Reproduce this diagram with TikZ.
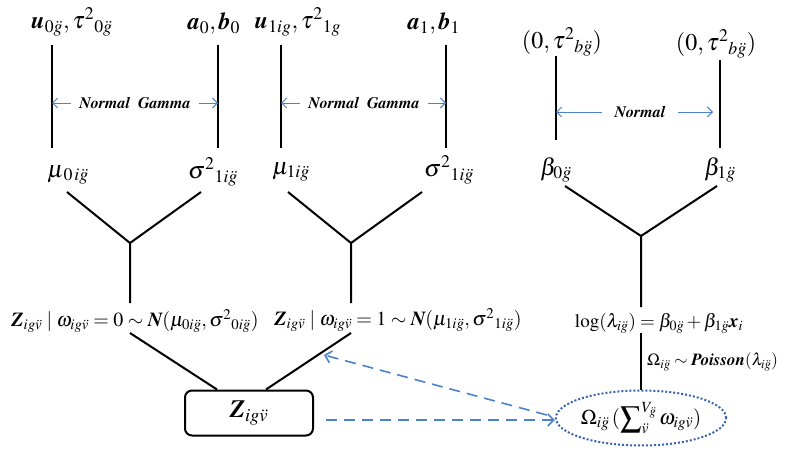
\documentclass[tikz,border=0pt]{standalone}
\usepackage[T1]{fontenc}
\usepackage{mathptmx}
\usetikzlibrary{arrows.meta,shapes.geometric}
\newcommand{\bi}[1]{\mbox{\bfseries\itshape #1}}
\newcommand{\gd}{\ddot{g}}
\newcommand{\vd}{\ddot{v}}
\definecolor{arrblue}{RGB}{75,130,200}
\definecolor{elblue}{RGB}{55,100,170}
\tikzset{
  lab/.style={inner sep=0pt, font=\fontsize{24}{28}\selectfont},
  eqn/.style={inner sep=0pt, font=\fontsize{20}{24}\selectfont},
  small/.style={inner sep=0pt, font=\fontsize{16}{19}\selectfont\bfseries\itshape},
  edge/.style={line width=2pt, black},
  harr/.style={arrblue, line width=0.9pt, -{Straight Barb[length=5pt,width=10pt]}},
  darr/.style={arrblue, line width=1.6pt, dash pattern=on 11pt off 7pt, -{Straight Barb[length=6pt,width=12pt]}},
  zbox/.style={draw, line width=2pt, rounded corners=7pt, minimum width=128pt, minimum height=45pt, inner sep=0pt, font=\fontsize{25}{29}\selectfont},
  oval/.style={ellipse, draw=elblue, line width=2pt, dotted, minimum width=162pt, minimum height=55pt, inner sep=0pt, font=\fontsize{21}{25}\selectfont}
}
\begin{document}
\begin{tikzpicture}[x=1pt,y=-1pt]
\useasboundingbox (0,0) rectangle (800,460);
% top labels
\node[lab] (A1) at (72,22) {$\bi{u}_{0\gd},\tau^{2}{}_{0\gd}$};
\node[lab] (A2) at (214,24) {$\bi{a}_{0},\bi{b}_{0}$};
\node[lab] (A3) at (298,22) {$\bi{u}_{1ig},\tau^{2}{}_{1g}$};
\node[lab] (A4) at (434,24) {$\bi{a}_{1},\bi{b}_{1}$};
\node[lab] (A5) at (562,42) {$(0,\tau^{2}{}_{b\gd})$};
\node[lab] (A6) at (716,44) {$(0,\tau^{2}{}_{b\gd})$};
% second-row labels
\node[lab] (B1) at (68,175) {$\mu_{\,0\,i\gd}$};
\node[lab] (B2) at (213,172) {$\sigma^{2}{}_{1i\gd}$};
\node[lab] (B3) at (291,172) {$\mu_{1i\gd}$};
\node[lab] (B4) at (449,170) {$\sigma^{2}{}_{1i\gd}$};
\node[lab] (B5) at (556,170) {$\beta_{0\gd}$};
\node[lab] (B6) at (720,170) {$\beta_{1\gd}$};
% vertical line ends
\coordinate (t1a) at (52,45);  \coordinate (t1b) at (52,148);
\coordinate (t2a) at (218,45); \coordinate (t2b) at (218,148);
\coordinate (t3a) at (281,45); \coordinate (t3b) at (281,148);
\coordinate (t4a) at (446,45); \coordinate (t4b) at (446,148);
\coordinate (t5a) at (556,56); \coordinate (t5b) at (556,140);
\coordinate (t6a) at (720,60); \coordinate (t6b) at (720,148);
\draw[edge] (t1a) -- (t1b);
\draw[edge] (t2a) -- (t2b);
\draw[edge] (t3a) -- (t3b);
\draw[edge] (t4a) -- (t4b);
\draw[edge] (t5a) -- (t5b);
\draw[edge] (t6a) -- (t6b);
% distribution labels
\node[small] (NG1) at (135,103) {Normal\hspace{8pt}Gamma};
\node[small] (NG2) at (364,103) {Normal\hspace{8pt}Gamma};
\node[small] (NN) at (640,112) {Normal};
\draw[harr] (NG1.west) ++(-8,0) coordinate (g1l) (g1l) -- (52,103);
\draw[harr] (NG1.east) ++(8,0) coordinate (g1r) (g1r) -- (218,103);
\draw[harr] (NG2.west) ++(-8,0) coordinate (g2l) (g2l) -- (281,103);
\draw[harr] (NG2.east) ++(8,0) coordinate (g2r) (g2r) -- (446,103);
\draw[harr] (NN.west) ++(-12,0) coordinate (nl) (nl) -- (556,112);
\draw[harr] (NN.east) ++(12,0) coordinate (nr) (nr) -- (713,112);
% Y junctions
\coordinate (y1l) at (67,192);  \coordinate (y1r) at (201,192);
\coordinate (y1) at (130,243);  \coordinate (y1d) at (130,303);
\coordinate (y2l) at (288,192); \coordinate (y2r) at (422,192);
\coordinate (y2) at (351,243);  \coordinate (y2d) at (351,303);
\coordinate (y3l) at (565,186); \coordinate (y3r) at (717,186);
\coordinate (y3) at (641,236);  \coordinate (y3d) at (641,307);
\draw[edge] (y1l) -- (y1) -- (y1r) (y1) -- (y1d);
\draw[edge] (y2l) -- (y2) -- (y2r) (y2) -- (y2d);
\draw[edge] (y3l) -- (y3) -- (y3r) (y3) -- (y3d);
% third row
\node[eqn] (C1) at (135,321) {$\bi{Z}_{ig\vd}\mid\omega_{ig\vd}=0\sim\bi{N}(\mu_{0i\gd},\sigma^{2}{}_{0i\gd})$};
\node[eqn] (C2) at (398,320) {$\bi{Z}_{ig\vd}\mid\omega_{ig\vd}=1\sim\bi{N}(\mu_{1i\gd},\sigma^{2}{}_{1i\gd})$};
\node[eqn, font=\fontsize{19}{23}\selectfont] (C3) at (659,323) {$\log(\lambda_{i\gd})=\beta_{0\gd}+\beta_{1\gd}\bi{x}_{i}$};
\node[eqn, font=\fontsize{17}{21}\selectfont, anchor=west] (P) at (647,362) {$\Omega_{i\gd}\sim\bi{Poisson}(\lambda_{i\gd})$};
% bottom
\node[zbox] (Z) at (249,413) {$\bi{Z}_{ig\vd}$};
\node[oval] (O) at (641,418) {$\Omega_{i\gd}\,(\displaystyle\sum\nolimits_{\vd}^{V_{\gd}}\omega_{ig\vd})$};
\coordinate (c1) at (130,333);
\coordinate (c2) at (351,333);
\coordinate (c3) at (641,333);
\draw[edge] (c1) -- (Z.north -| 217,0);
\draw[edge] (c2) -- (Z.north -| 266,0);
\draw[edge] (c3) -- (O.north);
\draw[darr] (Z.east) ++(12,7) coordinate (d1s) (d1s) -- (O.west |- d1s);
\draw[darr] (O.west) ++(-8,-3) coordinate (d2s) (d2s) -- (324,355);
\end{tikzpicture}
\end{document}
